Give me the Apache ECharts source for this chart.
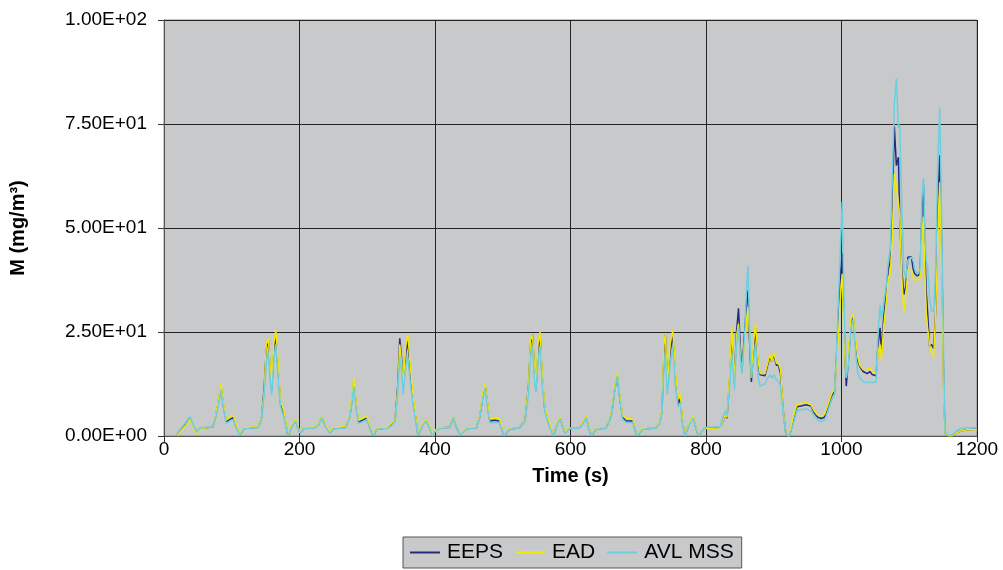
<!DOCTYPE html>
<html>
<head>
<meta charset="utf-8">
<script src="https://cdn.jsdelivr.net/npm/echarts@6/dist/echarts.min.js"></script>
<style>html,body{margin:0;padding:0;background:#fff}#c{width:1003px;height:570px}</style>
</head>
<body>
<div id="c"></div>
<script>
const times = [19,25,32,38,43,48,53,62,72,76,80,84,88,92,97,102,106,112,118,128,139,144,148,151,154,157,159,162,165,168,172,177,183,189,194,198,201,207,222,228,233,239,245,250,268,274,277,280,284,287,293,299,304,309,314,329,336,341,345,348,351,353,357,360,364,368,371,375,381,387,391,396,401,407,422,427,432,437,447,461,466,470,474,478,481,488,495,502,510,525,533,538,541,544,547,549,552,555,558,562,568,575,580,585,589,592,598,613,618,623,627,631,638,652,658,661,665,669,673,677,682,692,698,707,727,732,735,738,740,743,747,751,755,759,762,765,769,775,781,785,789,795,801,815,821,825,828,831,835,838,842,845,848,851,853,857,860,862,864,867,870,873,877,880,887,891,894,897,900,904,907,910,914,918,923,928,934,940,948,955,960,965,970,975,980,985,990,993,996,999,1001,1004,1007,1010,1014,1017,1021,1024,1027,1032,1038,1042,1045,1051,1054,1057,1059,1062,1066,1069,1072,1075,1078,1081,1084,1086,1089,1092,1095,1098,1103,1106,1108,1112,1116,1119,1121,1123,1125,1127,1130,1133,1136,1139,1142,1145,1148,1151,1153,1158,1163,1170,1176,1185,1200];
const eeps = [0,1.5,2.8,4.2,2.5,0.7,1.8,2.0,2.2,4.6,8,12,7,3.4,4.0,4.4,2.5,0.3,1.8,2.0,2.1,4.3,12,21,23,15,11,20,24.5,17,8,5.5,0,2.5,3.8,2.0,0.7,1.9,2.0,2.8,4.5,2.2,0.8,1.8,2.1,4.6,8,13,7,3.4,3.8,4.3,2,0,1.7,1.9,2.8,3.8,12,23.5,18,11.6,20,23,14,8,5,0,2.5,3.8,2.5,0.2,1.4,1.9,2.1,4.3,2.0,0.3,1.8,2.0,4.6,9,12.3,7,3.6,3.8,3.6,0,1.7,2.0,3.8,12,22,24.3,15,11,20,24.5,15,6.5,3,0,2.8,4.3,2,0.7,1.8,2.0,3,4.6,2,0,1.7,1.9,4,5.8,11,14.5,9,4.5,3.6,3.6,0,1.7,2.0,3.5,6,20,24.5,11.6,20,24.5,14,7.5,9,4,0,2.8,4.6,2,0,1.4,2.0,2.0,2.1,3.5,5,4.3,14,24,14,25,30.7,20,15.5,25,32,35,24,13,20,26,17,14.7,14.5,17,19,18,19.5,17,17,15,6,0.3,0,3,7,7.2,7.5,7.2,5.5,4.5,4.2,4.5,7,9.5,11,20,31.5,40,44,25,12,18,27,29,22,18,16.7,15.5,15,15.5,14.8,14.5,22,26,20,28,34,40,42,55,74.4,65,67,52,40,34,36,43,43.1,40,39,38.5,39,55,60.3,45,35,30,21.5,22,21,30,55,67.5,45,10,0.6,0,0,0.8,1.2,1.5,1.6];
const ead = [0,1.2,2.5,4.0,2.2,0.5,1.7,2.0,2.3,4.8,8.5,12.5,7.5,3.8,4.6,5.0,3,0.5,2.0,2.1,2.2,4.5,11,22,23.5,16,12,22,25.5,19,8.5,6,0.2,2.8,4.0,2.2,0.8,2.0,2.1,3.0,4.6,2.4,1.0,1.9,2.3,4.8,9,14,7.5,3.8,4.2,4.8,2.3,0.2,1.8,2.1,3.0,4.0,11,22,17,12,22,24.3,16,9,5.5,0.2,2.8,4.0,2.8,0.3,1.5,2.0,2.1,4.4,2.1,0.4,1.9,2.1,4.8,10,12.5,7.5,4.2,4.3,4.2,0.1,1.8,2.0,3.8,12,23,24.3,16,12,22,25,16,7,3.5,0,3,4.5,2.2,0.8,1.9,2.0,3.2,4.8,2.2,0.1,1.8,2.0,4.2,6,11.5,15.2,9.5,5,4.2,4.0,0.1,1.8,2.0,3.8,6.2,22,24.7,12,22,25.5,15,9,10,4.5,0,3,4.8,2.2,0.1,1.5,1.8,1.9,2.0,3.6,5,4.5,15,26.3,13,24,27,18,16,22,28,31,26,14,22,27,18,15,15,17.5,19.5,18,20,17.5,17.5,16,6,0.3,0,4,7.5,7.8,8,7.5,6,5,4.8,5.2,7.5,10,11.5,18,26,35,39,22,14,20,28,29.5,23,19,17,16,16,16.5,15.5,15,20,22,18.3,26,32,38,39,48,63,60,56,53,38,30,34,40,40,38,37.5,37.5,38,48,52.7,40,30,26,22,20,19,30,48,61,40,8,0.6,0,0,0.8,1.2,1.5,1.5];
const avl = [0.5,1.8,3.2,4.6,2.8,1.0,1.9,2.1,2.2,4.3,7,11,6.5,3.0,3.6,3.9,2.2,0.2,1.7,1.9,2.0,4.0,10,18,20,13,10,18,22,15,7,4.5,0,2.2,3.6,1.8,0.6,1.8,1.9,2.6,4.3,2.0,0.7,1.7,2.0,4.3,7.5,12,6,3.0,3.4,3.9,1.8,0,1.6,1.8,2.5,3.5,10,19,15,10,17,19,12,7,4,0,2.3,3.6,2.3,0,1.3,1.8,2.0,4.2,1.9,0.2,1.7,1.9,4.4,8.5,11.5,6,3.2,3.3,3.2,0,1.6,1.9,3.5,10,19,21.5,13,10.5,18,21.5,13,6,2.5,0,2.6,4.1,1.8,0.6,1.7,1.9,2.8,4.4,1.8,0,1.6,1.8,3.8,5.5,10.5,14.5,8.5,4,3.3,3.2,0,1.6,1.9,3.2,5.5,17,20,10,17,21.5,12,7,8,3,0,2.6,4.3,1.8,0,1.3,2.1,2.2,2.3,4.5,6,5,12,20,11,22,26,18,15,24,36,41,28,14,18,22,14,12,12.5,14,14.7,14,14.7,13.5,13,12,5,0.3,0,2.5,6,6.3,6.5,6,4.8,3.8,3.5,3.8,6,8.5,10,22,35,48,56.3,30,14,17,26,28,20,15,14,13,12.8,13,12.8,13,25,31.5,28,32,36,42,45,62,80,86,74,74.8,55,40,38,42.3,43,42,40,39,40,58,62,50,42,41,33,30,30,40,65,79,50,15,1,0.2,0.2,1.2,1.8,2.0,2.0];
const yTicks = [0, 25, 50, 75, 100];
const xTicks = [0, 200, 400, 600, 800, 1000, 1200];

function sci(v) {
  if (v === 0) return '0.00E+00';
  const e = Math.floor(Math.log10(Math.abs(v)));
  const m = v / Math.pow(10, e);
  const es = (e < 0 ? '-' : '+') + String(Math.abs(e)).padStart(2, '0');
  return m.toFixed(2) + 'E' + es;
}
const pair = arr => times.map((t, i) => [t, arr[i]]);
const font = 'Liberation Sans, Arial, sans-serif';
const chart = echarts.init(document.getElementById('c'), null, {renderer: 'canvas'});
chart.setOption({
  animation: false,
  backgroundColor: '#ffffff',
  grid: {left: 164, top: 20, right: 26, bottom: 134, show: true, backgroundColor: '#c8c9cb', borderColor: '#8a8a8a', borderWidth: 1},
  xAxis: {
    type: 'value', min: xTicks[0], max: xTicks[xTicks.length - 1], interval: 200,
    name: 'Time (s)', nameLocation: 'middle', nameGap: 30,
    nameTextStyle: {fontFamily: font, fontSize: 20, fontWeight: 'bold', color: '#000'},
    axisLine: {show: true, onZero: false, lineStyle: {color: '#555', width: 1}},
    axisTick: {show: true, length: 6, lineStyle: {color: '#333'}},
    axisLabel: {fontFamily: font, fontSize: 19, color: '#000', margin: 4, formatter: v => String(v)},
    splitLine: {show: true, lineStyle: {color: '#222', width: 1}}
  },
  yAxis: {
    type: 'value', min: yTicks[0], max: yTicks[yTicks.length - 1], interval: 25,
    name: 'M (mg/m³)', nameLocation: 'middle', nameGap: 136, nameRotate: 90,
    nameTextStyle: {fontFamily: font, fontSize: 20, fontWeight: 'bold', color: '#000'},
    axisLine: {show: true, lineStyle: {color: '#555', width: 1}},
    axisTick: {show: true, length: 6, lineStyle: {color: '#333'}},
    axisLabel: {fontFamily: font, fontSize: 19, color: '#000', margin: 17, formatter: v => sci(v)},
    splitLine: {show: true, lineStyle: {color: '#222', width: 1}}
  },
  legend: {
    left: 403, top: 537,
    padding: [5, 8, 5, 7], itemGap: 12, itemWidth: 30, itemHeight: 2,
    backgroundColor: '#c8c9cb', borderColor: '#555', borderWidth: 1,
    icon: 'rect',
    textStyle: {fontFamily: font, fontSize: 21, color: '#000', padding: [0, 0, 0, 2]},
    data: ['EEPS', 'EAD', 'AVL MSS']
  },
  series: [
    {name: 'EEPS', type: 'line', data: pair(eeps), showSymbol: false, symbol: 'none', lineStyle: {color: '#262a7a', width: 1.5}, itemStyle: {color: '#262a7a'}},
    {name: 'EAD', type: 'line', data: pair(ead), showSymbol: false, symbol: 'none', lineStyle: {color: '#f3e800', width: 1.5}, itemStyle: {color: '#f3e800'}},
    {name: 'AVL MSS', type: 'line', data: pair(avl), showSymbol: false, symbol: 'none', lineStyle: {color: '#6ccfe0', width: 1.5}, itemStyle: {color: '#6ccfe0'}}
  ]
});
</script>
</body>
</html>
